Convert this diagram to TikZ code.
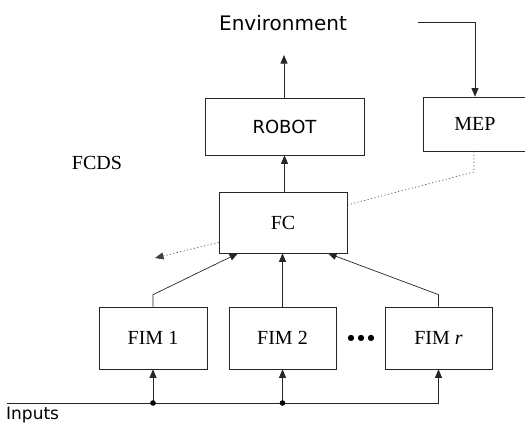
\documentclass[tikz,border=0pt]{standalone}
\usepackage{fontspec}
\setmainfont{Liberation Serif}
\newfontfamily\sansf{DejaVu Sans}
\usetikzlibrary{arrows.meta,calc}
\begin{document}
\begin{tikzpicture}[x=1pt,y=-1pt,
  ln/.style={line width=0.7pt,draw=black!85},
  arr/.style={ln,-{Triangle[length=8.5pt,width=7pt]}},
  dotln/.style={line width=0.7pt,draw=black!75,dash pattern=on 1pt off 2.5pt},
  blk/.style={ln,rectangle,inner sep=0pt,font=\fontsize{20}{23}\selectfont},
  sblk/.style={blk,font=\sansf\fontsize{18}{21}\selectfont},
  lbl/.style={font=\fontsize{20}{23}\selectfont,inner sep=0pt},
  slbl/.style={font=\sansf\fontsize{20}{23}\selectfont,inner sep=0pt}]
\useasboundingbox (0,0) rectangle (525,423);
% nodes
\node[slbl] (env) at (283,23) {Environment};
\node[sblk,draw,minimum width=159,minimum height=57] (robot) at (284.5,126.5) {ROBOT};
\node[blk,draw,minimum width=105,minimum height=54] (mep) at (475.5,124) {};
\node[lbl] (meptxt) at (475,124) {MEP};
\node[lbl] (fcds) at (97,163) {FCDS};
\node[blk,draw,minimum width=128,minimum height=61] (fc) at (283,222.5) {FC};
\node[blk,draw,minimum width=108,minimum height=62] (fim1) at (153,338) {FIM 1};
\node[blk,draw,minimum width=107,minimum height=62] (fim2) at (282.5,338) {FIM 2};
\node[blk,draw,minimum width=107,minimum height=62] (fimr) at (438.5,338) {FIM \textit{r}};
\node[font=\sansf\fontsize{8}{10}\selectfont,inner sep=0pt] (dots) at (361,338) {●\hspace{3pt}●\hspace{3pt}●};
\node[slbl,anchor=west,font=\sansf\fontsize{17}{20}\selectfont] (inputs) at (6,415) {Inputs};
% coordinates
\coordinate (envtip) at (284,55);
\coordinate (e1) at (418,22);
\coordinate (e2) at (475,22);
\coordinate (m1) at (474,172);
\coordinate (fcr) at (347,205);
\coordinate (fltip) at (155,258);
\coordinate (in0) at (7,403);
% connectors
\draw[arr] (robot.north -| envtip) -- (envtip);
\draw[arr] (robot.south |- fc.north) -- (robot.south);
\draw[arr] (e1) -- (e2) -- (e2 |- mep.north);
\draw[dotln] (mep.south -| m1) -- (m1) -- (fcr);
\draw[dotln,-{Triangle[length=8.5pt,width=7pt]}] ($(fc.south west)+(0,-11)$) -- (fltip);
\draw[arr] (fim1.north) -- ++(0,-12) -- ($(fc.south west)!0.15!(fc.south east)$);
\draw[arr] (fim2.north) -- (fim2.north |- fc.south);
\draw[arr] (fimr.north) -- ++(0,-12) -- ($(fc.south west)!0.85!(fc.south east)$);
\draw[arr] (in0) -- (fimr.south |- in0) -- (fimr.south);
\draw[arr] (fim1.south |- in0) -- (fim1.south);
\draw[arr] (fim2.south |- in0) -- (fim2.south);
\fill (fim1.south |- in0) circle (2.8);
\fill (fim2.south |- in0) circle (2.8);
\end{tikzpicture}
\end{document}
